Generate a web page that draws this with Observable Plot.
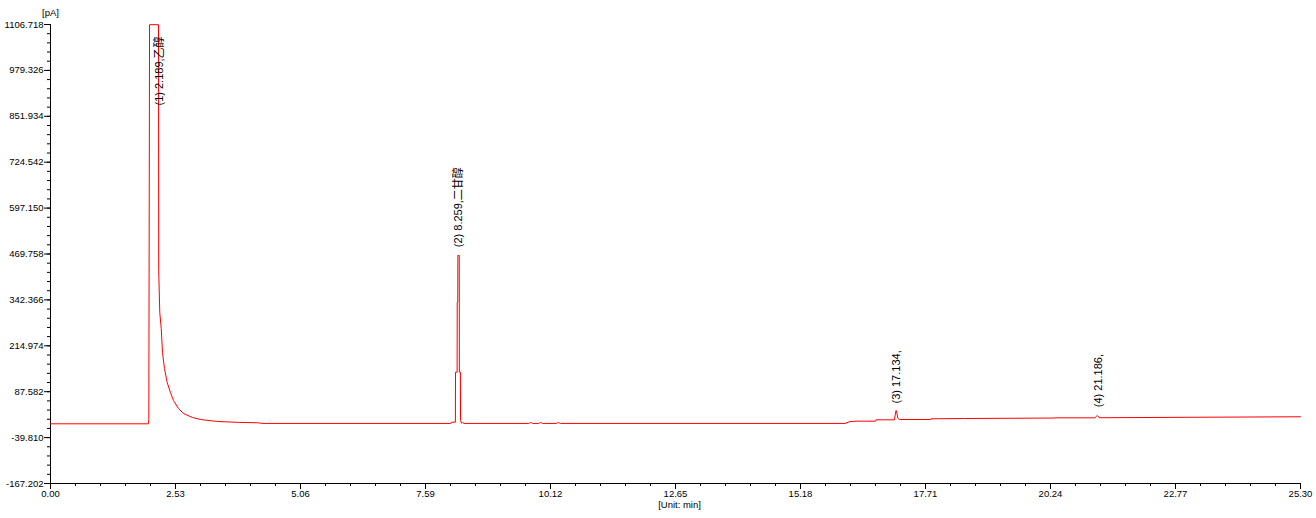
<!DOCTYPE html>
<html>
<head>
<meta charset="utf-8">
<script src="https://cdn.jsdelivr.net/npm/d3@7"></script>
<script src="https://cdn.jsdelivr.net/npm/@observablehq/plot@0.6"></script>
<style>
  html, body { margin: 0; padding: 0; background: #fff; }
  #chart { width: 1316px; height: 518px; }
</style>
</head>
<body>
<div id="chart"></div>
<script>
// Retention time (min)
const times = [
  0.00, 1.98, 1.99, 2.005, 2.186, 2.190, 2.212, 2.241, 2.267, 2.307, 2.362, 2.429, 2.490,
  2.591, 2.692, 2.874, 3.036, 3.38, 3.80, 4.19, 4.30,
  8.10, 8.116, 8.195, 8.197, 8.230, 8.232, 8.243, 8.245, 8.273, 8.275, 8.297, 8.299, 8.32, 8.34, 8.37,
  9.68, 9.72, 9.76, 9.88, 9.92, 9.96, 10.24, 10.28, 10.32,
  16.08, 16.18, 16.30, 16.70, 16.71,
  17.08, 17.10, 17.115, 17.13, 17.15, 17.18, 17.81, 17.82, 18.50, 20.30, 20.35,
  21.14, 21.17, 21.185, 21.20, 21.24, 23.00, 25.30
];
// Detector signal (pA)
const signal = [
  -1.5, -1.5, 10, 1106.2, 1106.2, 424, 307, 263, 196, 152, 113, 85, 63,
  41, 27, 16, 10.4, 4.9, 2.5, 1.3, -0.5,
  -0.5, 3, 3, 141.7, 141.7, 336, 336, 465.6, 465.6, 141.7, 141.7, 8, 0, 2, -0.5,
  -0.5, 2, -0.5, -0.5, 2, -0.5, -0.5, 2, -0.5,
  -0.5, 4.5, 5.8, 5.8, 9.6,
  9.6, 25, 35.4, 28, 14, 10.4, 10.4, 12.4, 13.2, 14.5, 15.1,
  15.1, 19, 21.5, 19, 15.3, 16.5, 18
];

// Peak annotations
const peakLabels = ["(1) 2.189,乙醇", "(2) 8.259,二甘醇", "(3) 17.134,", "(4) 21.186,"];
const labelTimes = [2.206, 8.264, 17.123, 21.218];
const labelLevels = [881.9, 488.6, 54.8, 44.6];

// Axis ticks
const xTicks = [0.00, 2.53, 5.06, 7.59, 10.12, 12.65, 15.18, 17.71, 20.24, 22.77, 25.30];
const yTicks = [-167.202, -39.810, 87.582, 214.974, 342.366, 469.758, 597.150, 724.542, 851.934, 979.326, 1106.718];

const trace = times.map((t, i) => ({t, v: signal[i]}));
const labels = peakLabels.map((s, i) => ({s, t: labelTimes[i], v: labelLevels[i]}));

const xMinor = d3.range(0, 51).map(i => i * 0.506);
const yMinor = d3.range(0, 51).map(i => -167.202 + i * 25.4784);

const font = "'Liberation Sans', Arial, 'Noto Sans CJK SC', sans-serif";

const chart = Plot.plot({
  width: 1316,
  height: 518,
  marginLeft: 50,
  marginRight: 16,
  marginTop: 24,
  marginBottom: 35,
  style: {fontFamily: font, fontSize: "9.5px", background: "#fff", color: "#000"},
  x: {domain: [0, 25.30]},
  y: {domain: [-167.202, 1106.718]},
  marks: [
    Plot.axisX(xMinor, {tickSize: 3, tickFormat: () => "", label: null, stroke: "#000"}),
    Plot.axisX(xTicks, {tickSize: 6, tickPadding: 1, tickFormat: d => d.toFixed(2), label: null, stroke: "#000", fill: "#000", fontSize: 9.5}),
    Plot.axisY(yMinor, {tickSize: 3, tickFormat: () => "", label: null, stroke: "#000"}),
    Plot.axisY(yTicks, {tickSize: 6, tickPadding: 1, tickFormat: d => d.toFixed(3), label: null, stroke: "#000", fill: "#000", fontSize: 9.5}),
    Plot.ruleX([0], {stroke: "#000"}),
    Plot.ruleY([-167.202], {stroke: "#000"}),
    Plot.line(trace, {x: "t", y: "v", stroke: "#ff0000", strokeWidth: 1}),
    Plot.text(labels, {
      x: "t", y: "v", text: "s", rotate: -90, textAnchor: "start", lineAnchor: "middle",
      fontSize: 11, fill: "#000", fontFamily: font
    }),
    Plot.text(["[pA]"], {frameAnchor: "top-left", dy: -15, textAnchor: "middle", fontSize: 9.5, fill: "#000"}),
    Plot.text(["[Unit: min]"], {frameAnchor: "bottom", dx: 4, dy: 24, textAnchor: "middle", fontSize: 9.5, fill: "#000"})
  ]
});
document.getElementById("chart").appendChild(chart);
</script>
</body>
</html>
